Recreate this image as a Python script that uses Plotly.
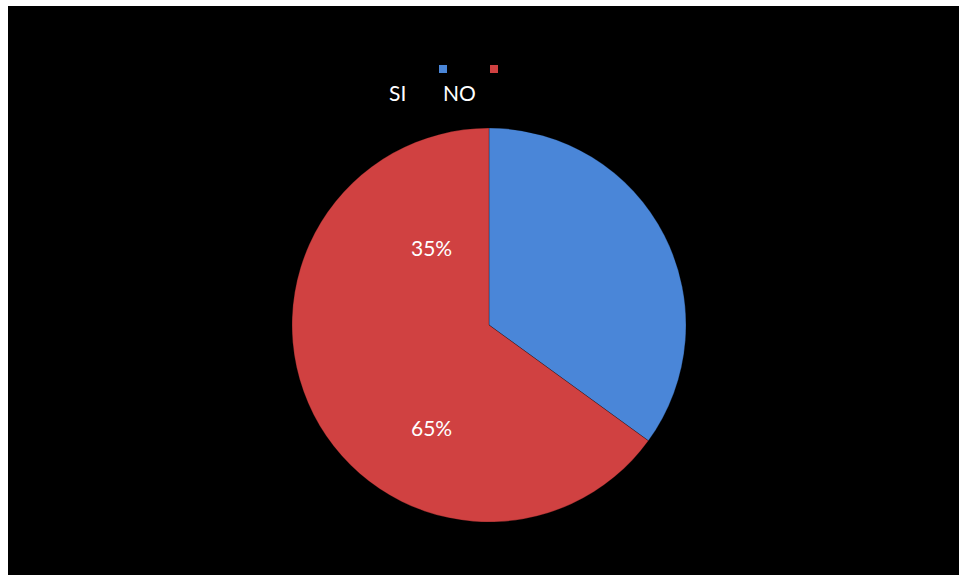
import plotly.graph_objects as go

categories = ["SI", "NO"]
values = [35, 65]
colors = ["#4a86d8", "#d04141"]
label_texts = [f"{v}%" for v in values]

W, H = 959, 575
OX, OY = 8, 6  # page offset (white strips) between figure and screenshot coordinates
cx, cy, r = 489 - OX, 325 - OY, 197

fig = go.Figure()
fig.add_trace(go.Pie(
    labels=categories,
    values=values,
    sort=False,
    direction="clockwise",
    rotation=0,
    marker=dict(colors=colors, line=dict(color="rgba(0,0,0,0.25)", width=1)),
    textinfo="none",
    hoverinfo="label+percent",
    showlegend=False,
    domain=dict(x=[(cx - r) / W, (cx + r) / W], y=[1 - (cy + r) / H, 1 - (cy - r) / H]),
))

shapes = []
annotations = []
font = dict(family="Lato, Open Sans, sans-serif", size=21, color="white")

# manual legend (squares above, text below)
leg_sq_x = [443, 494]
leg_txt_x = [397, 459]
for cat, col, sx, tx in zip(categories, colors, leg_sq_x, leg_txt_x):
    sx -= OX
    tx -= OX
    shapes.append(dict(type="rect", xref="paper", yref="paper",
                       x0=(sx - 4) / W, x1=(sx + 4) / W,
                       y0=1 - (73 - OY) / H, y1=1 - (65 - OY) / H,
                       fillcolor=col, line=dict(width=0)))
    annotations.append(dict(text=cat, xref="paper", yref="paper", x=tx / W, y=1 - (93 - OY) / H,
                             showarrow=False, xanchor="center", yanchor="middle", font=font))

# percentage labels (placed as in the reference)
label_pos = [(431, 248), (431, 427)]
for t, (lx, ly) in zip(label_texts, label_pos):
    annotations.append(dict(text=t, xref="paper", yref="paper", x=(lx - OX) / W, y=1 - (ly - OY) / H,
                             showarrow=False, xanchor="center", yanchor="middle", font=font))

fig.update_layout(
    width=W, height=H,
    margin=dict(l=0, r=0, t=0, b=0),
    paper_bgcolor="black",
    plot_bgcolor="black",
    shapes=shapes,
    annotations=annotations,
)

fig.write_html(
    "out.html",
    post_script=(
        "var h=document.documentElement, b=document.body;"
        "h.style.background='black'; h.style.overflow='hidden';"
        "b.style.overflow='hidden'; b.style.margin='0'; b.style.background='black';"
        "b.style.borderTop='6px solid white'; b.style.borderLeft='8px solid white';"
    ),
)
